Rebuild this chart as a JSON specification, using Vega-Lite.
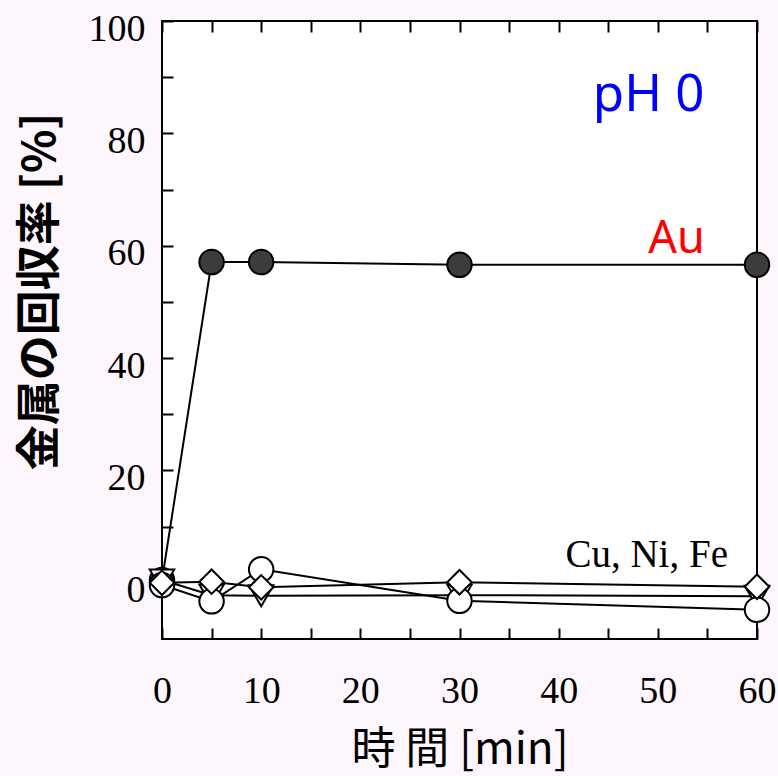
{
  "$schema": "https://vega.github.io/schema/vega-lite/v6.json",
  "width": 595,
  "height": 618,
  "autosize": "none",
  "padding": {"left": 162, "top": 21, "right": 21, "bottom": 137},
  "background": "#fdf6fc",
  "view": {"fill": "white", "stroke": "black", "strokeWidth": 2},
  "datasets": {
    "pts": [
      {"t": 0, "v": 0.5, "s": "Au"},
      {"t": 5, "v": 57.1, "s": "Au"},
      {"t": 10, "v": 57.1, "s": "Au"},
      {"t": 30, "v": 56.6, "s": "Au"},
      {"t": 60, "v": 56.6, "s": "Au"},
      {"t": 0, "v": 0.5, "s": "Fe"},
      {"t": 5, "v": -2.2, "s": "Fe"},
      {"t": 10, "v": -2.3, "s": "Fe"},
      {"t": 30, "v": -2.2, "s": "Fe"},
      {"t": 60, "v": -2.4, "s": "Fe"},
      {"t": 0, "v": -0.4, "s": "Cu"},
      {"t": 5, "v": -3.3, "s": "Cu"},
      {"t": 10, "v": 2.4, "s": "Cu"},
      {"t": 30, "v": -3.2, "s": "Cu"},
      {"t": 60, "v": -4.8, "s": "Cu"},
      {"t": 0, "v": 0.0, "s": "Ni"},
      {"t": 5, "v": 0.2, "s": "Ni"},
      {"t": 10, "v": -0.8, "s": "Ni"},
      {"t": 30, "v": 0.1, "s": "Ni"},
      {"t": 60, "v": -0.7, "s": "Ni"}
    ],
    "ph": [{"t": 54.7, "v": 84, "txt": "pH 0"}],
    "au": [{"t": 54.75, "v": 58.7, "txt": "Au"}],
    "cu": [{"t": 57.07, "v": 2.8, "txt": "Cu, Ni, Fe"}]
  },
  "resolve": {"axis": {"x": "independent", "y": "independent"}},
  "layer": [
    {
      "data": {"name": "pts"},
      "mark": {"type": "line", "color": "black", "strokeWidth": 2},
      "encoding": {
        "x": {
          "field": "t", "type": "quantitative",
          "scale": {"domain": [0, 60], "nice": false, "zero": false},
          "axis": {
            "values": [0, 5, 10, 15, 20, 25, 30, 35, 40, 45, 50, 55, 60],
            "labelExpr": "datum.value % 10 == 0 ? datum.label : ''",
            "labelFlush": false, "labelOverlap": false,
            "domain": false, "grid": false,
            "tickSize": -11, "tickWidth": 2, "tickColor": "black",
            "labelPadding": 44, "labelFont": "Liberation Serif", "labelFontSize": 38,
            "labelColor": "black", "labelBaseline": "top",
            "title": "時 間 [min]",
            "titleFont": "Noto Sans CJK JP", "titleFontSize": 44, "titleFontWeight": "normal",
            "titleColor": "black", "titleBaseline": "alphabetic", "titleY": 124
          }
        },
        "y": {
          "field": "v", "type": "quantitative",
          "scale": {"domain": [-10, 100], "nice": false, "zero": false},
          "axis": {
            "values": [0, 10, 20, 30, 40, 50, 60, 70, 80, 90, 100],
            "labelExpr": "datum.value % 20 == 0 ? datum.label : ''",
            "labelFlush": false, "labelOverlap": false,
            "domain": false, "grid": false,
            "tickSize": -11, "tickWidth": 2, "tickColor": "black",
            "labelPadding": 28, "labelFont": "Liberation Serif", "labelFontSize": 38,
            "labelColor": "black", "labelBaseline": "middle",
            "labelOffset": 8,
            "title": "金属の回収率 [%]",
            "titleFont": "Noto Sans CJK JP", "titleFontSize": 45, "titleFontWeight": "bold",
            "titleColor": "black", "titleAngle": -90, "titleBaseline": "middle",
            "titleAlign": "center", "titleX": -122, "titleY": 270
          }
        },
        "detail": {"field": "s", "type": "nominal"}
      }
    },
    {
      "data": {"name": "pts"},
      "mark": {"type": "point", "filled": true, "size": 600, "stroke": "black", "strokeWidth": 2, "opacity": 1},
      "encoding": {
        "x": {
          "field": "t", "type": "quantitative",
          "axis": {
            "orient": "top",
            "values": [0, 5, 10, 15, 20, 25, 30, 35, 40, 45, 50, 55, 60],
            "labels": false, "domain": false, "grid": false,
            "tickSize": -11, "tickWidth": 2, "tickColor": "black", "title": null
          }
        },
        "y": {"field": "v", "type": "quantitative", "axis": null},
        "shape": {
          "field": "s", "type": "nominal",
          "scale": {"domain": ["Au", "Fe", "Cu", "Ni"], "range": ["circle", "triangle-down", "circle", "diamond"]},
          "legend": null
        },
        "fill": {
          "field": "s", "type": "nominal",
          "scale": {"domain": ["Au", "Fe", "Cu", "Ni"], "range": ["#3c3c3c", "white", "white", "white"]},
          "legend": null
        }
      }
    },
    {
      "data": {"name": "ph"},
      "mark": {"type": "text", "align": "right", "baseline": "alphabetic", "font": "Noto Sans", "fontSize": 51, "color": "#0000ff"},
      "encoding": {
        "x": {"field": "t", "type": "quantitative", "axis": null},
        "y": {"field": "v", "type": "quantitative", "axis": null},
        "text": {"field": "txt"}
      }
    },
    {
      "data": {"name": "au"},
      "mark": {"type": "text", "align": "right", "baseline": "alphabetic", "font": "Noto Sans", "fontSize": 45, "color": "#ff0000"},
      "encoding": {
        "x": {"field": "t", "type": "quantitative", "axis": null},
        "y": {"field": "v", "type": "quantitative", "axis": null},
        "text": {"field": "txt"}
      }
    },
    {
      "data": {"name": "cu"},
      "mark": {"type": "text", "align": "right", "baseline": "alphabetic", "font": "Liberation Serif", "fontSize": 39, "color": "black"},
      "encoding": {
        "x": {"field": "t", "type": "quantitative", "axis": null},
        "y": {"field": "v", "type": "quantitative", "axis": null},
        "text": {"field": "txt"}
      }
    }
  ]
}
